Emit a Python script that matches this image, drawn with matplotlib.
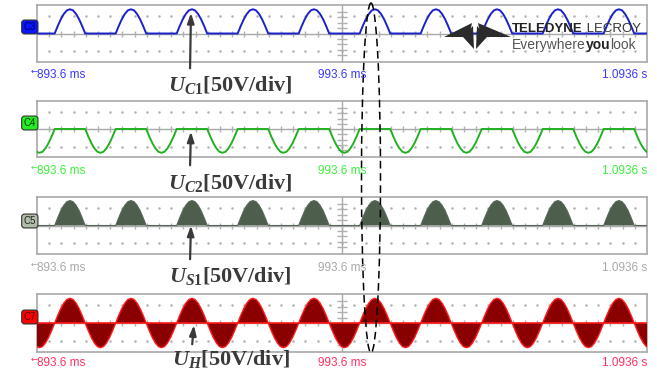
import matplotlib.pyplot as plt
import matplotlib.patches as patches
from matplotlib import font_manager
import numpy as np

# one 20 ms mains period of each trace (V), sampled every 1 ms from the
# rising zero crossing of U_H
sample_ms = 1.0
cycle_start_ms = 5.8
uc1_cycle = [0, 21, 40, 55, 65, 68, 65, 55, 40, 21, 0, 0, 0, 0, 0, 0, 0, 0, 0, 0]
uc2_cycle = [0, 0, 0, 0, 0, 0, 0, 0, 0, 0, 0, -21, -40, -55, -65, -68, -65, -55, -40, -21]
us1_cycle = [0, 22, 42, 57, 67, 70, 67, 57, 42, 22, 0, 0, 0, 0, 0, 0, 0, 0, 0, 0]
uh_cycle = [0, 21, 40, 55, 65, 68, 65, 55, 40, 21, 0, -21, -40, -55, -65, -68, -65, -55, -40, -21]

time_labels = ['893.6 ms', '993.6 ms', '1.0936 s']
channels = ['C3', 'C4', 'C5', 'C7']
names = ['C1', 'C2', 'S1', 'H']

W, H = 657, 377
fig = plt.figure(figsize=(W / 100, H / 100), dpi=100)
fig.patch.set_facecolor('white')
plt.rcParams['mathtext.fontset'] = 'custom'
plt.rcParams['mathtext.it'] = 'Liberation Serif:italic:bold'
plt.rcParams['mathtext.rm'] = 'Liberation Serif:bold'

installed = {f.name for f in font_manager.fontManager.ttflist}
narrow = 'Liberation Sans Narrow' if 'Liberation Sans Narrow' in installed else None

# panel boxes in pixels (top, bottom)
boxes = [(5, 62), (101, 157), (197, 254), (294, 352)]
x0, x1 = 37, 647


def tile(cycle):
    n = len(cycle)
    reps = 11
    t = cycle_start_ms - n * sample_ms + np.arange(n * reps + 1) * sample_ms
    v = np.array(cycle * reps + cycle[:1], dtype=float)
    return t, v


axs = []
for top, bot in boxes:
    ax = fig.add_axes([x0 / W, 1 - bot / H, (x1 - x0) / W, (bot - top) / H])
    ax.set_xlim(0, 200)
    ax.set_ylim(-80, 80)
    ax.set_xticks([])
    ax.set_yticks([])
    for s in ax.spines.values():
        s.set_color('#a8a8a8')
        s.set_linewidth(1.2)
    # dotted graticule
    gx = np.arange(4, 200, 4)
    for gy in (-50, 50):
        ax.plot(gx, np.full_like(gx, gy, dtype=float), ls='none', marker='.',
                ms=1.6, color='#b0b0b0')
    ax.axhline(0, color='#a8a8a8', lw=1)
    ax.axvline(100, color='#a8a8a8', lw=1)
    ax.plot(gx, np.zeros_like(gx), ls='none', marker='|', ms=5, color='#b0b0b0')
    ty = np.array([-60, -45, -30, -15, 15, 30, 45, 60])
    ax.plot(np.full_like(ty, 100, dtype=float), ty, ls='none', marker='_',
            ms=7, color='#b0b0b0')
    axs.append(ax)

t, v = tile(uc1_cycle)
axs[0].plot(t, v, color='#1a22c8', lw=1.4, zorder=3)

t, v = tile(uc2_cycle)
axs[1].plot(t, v, color='#22b022', lw=1.4, zorder=3)

t, v = tile(us1_cycle)
axs[2].fill_between(t, 0, v, color='#4d5e4d', lw=0, zorder=3)
axs[2].plot(t, v, color='#56665a', lw=0.8, zorder=3)

t, v = tile(uh_cycle)
axs[3].fill_between(t, 0, v, color='#8a0000', lw=0, zorder=3)
axs[3].plot(t, v, color='#ff1a1a', lw=1.0, zorder=4)
axs[3].axhline(0, color='#ff1a1a', lw=1.2, zorder=4)

ov = fig.add_axes([0, 0, 1, 1], zorder=10)
ov.set_xlim(0, W)
ov.set_ylim(H, 0)
ov.axis('off')
ov.patch.set_alpha(0)

label_y = [75, 171, 268, 363]
label_colors = ['#3838ff', '#3cf03c', '#a8a8a8', '#ff3060']
for ly, lc in zip(label_y, label_colors):
    ov.text(x0, ly, time_labels[0], color=lc, fontsize=8.5, family='Liberation Sans',
            ha='left', va='center')
    ov.text(x0 + 1, ly - 4, '\u2190', color=lc, fontsize=6, ha='right', va='center')
    ov.text((x0 + x1) / 2, ly, time_labels[1], color=lc, fontsize=8.5,
            family='Liberation Sans', ha='center', va='center')
    ov.text(x1, ly, time_labels[2], color=lc, fontsize=8.5, family='Liberation Sans',
            ha='right', va='center')

# channel markers
marker_y = [27, 123, 221, 317]
marker_fc = ['#0a14ff', '#22ee22', '#b0bca8', '#ff0000']
marker_tc = ['#000050', '#003000', '#202020', '#500000']
for ch, my, fc, tc in zip(channels, marker_y, marker_fc, marker_tc):
    ov.text(x0 - 1, my, ch, fontsize=7, family='Liberation Sans', color=tc,
            ha='right', va='center',
            bbox=dict(boxstyle='round,pad=0.2,rounding_size=0.3', fc=fc, ec='#303030', lw=0.8))

# annotations with arrows
text_xy = [(230, 85), (230, 183), (230, 276), (231, 359)]
arrow_from = [(190, 71), (190, 168), (190, 262), (192, 347)]
arrow_to = [(50.5, 66), (50.5, 1), (50.5, 8), (51.5, 2)]
for ax, nm, txy, af, at in zip(axs, names, text_xy, arrow_from, arrow_to):
    ov.text(txy[0], txy[1], r'$U_{%s}$[50V/div]' % nm, fontsize=16,
            family='Liberation Serif', weight='bold', color='#3a3a3a',
            ha='center', va='center')
    ov.annotate('', xy=at, xycoords=ax.transData, xytext=af, textcoords='data',
                arrowprops=dict(arrowstyle='-|>,head_length=0.6,head_width=0.2',
                                color='#3a3a3a', lw=1.6))

ov.add_patch(patches.Ellipse((371, 178), 19, 350, fill=False, ls=(0, (5, 3)),
                             ec='black', lw=1.1))

# Teledyne LeCroy logo
logo = '#2b2b2b'
for pts in ([(444, 37), (472, 23), (469, 37)],
            [(463, 37), (473, 26), (474, 49)],
            [(477, 26), (487, 37), (476, 49)],
            [(478, 23), (511, 37), (481, 37)]):
    ov.add_patch(patches.Polygon(pts, closed=True, fc=logo, ec='none'))


def run(parts, x, y, size, family, stretch):
    renderer = fig.canvas.get_renderer()
    inv = ov.transData.inverted()
    for s, w, c in parts:
        kw = dict(fontsize=size, weight=w, color=c, ha='left', va='center')
        if family:
            kw['family'] = family
        else:
            kw['family'] = 'Liberation Sans'
            kw['fontstretch'] = stretch
        txt = ov.text(x, y, s, **kw)
        bb = txt.get_window_extent(renderer)
        x = inv.transform((bb.x1, bb.y0))[0]
    return x


head_size = 12 if narrow else 9.5
run([('TELEDYNE', 'bold', '#222222'), (' LECROY', 'normal', '#333333')],
    512, 29, head_size, narrow, 'condensed')
run([('Everywhere', 'normal', '#555555'), ('you', 'bold', '#222222'),
     ('look', 'normal', '#555555')], 512, 45, 10, None, 'normal')

fig.savefig('out.png', dpi=100)
